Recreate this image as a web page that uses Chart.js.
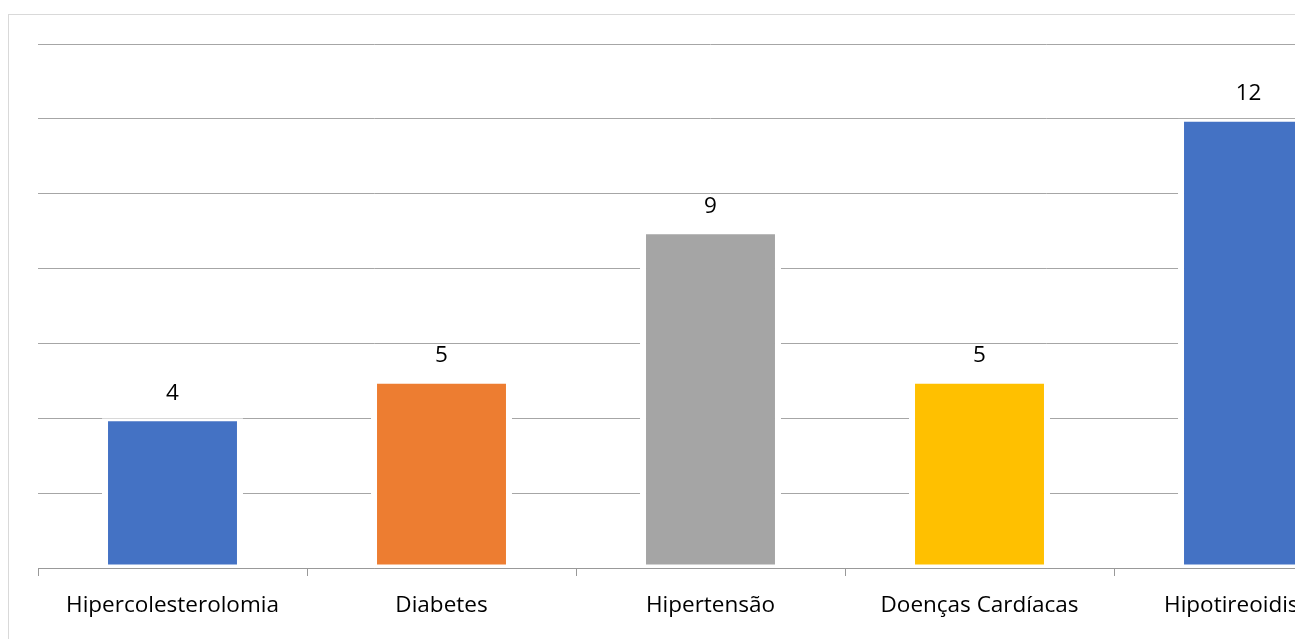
<!DOCTYPE html>
<html>
<head>
<meta charset="utf-8">
<script src="https://cdn.jsdelivr.net/npm/chart.js@4.4.1/dist/chart.umd.min.js"></script>
<style>
  html, body { margin: 0; padding: 0; background: #fff; overflow: hidden; width: 1300px; height: 639px; }
  .clip { position: absolute; left: 0; top: 0; width: 1295px; height: 639px; overflow: hidden; }
  .frame { position: absolute; left: 8px; top: 14px; width: 1400px; height: 700px; border: 1px solid #d9d9d9; box-sizing: border-box; }
  .wrap { position: absolute; left: 0; top: 0; width: 1400px; height: 639px; }
</style>
</head>
<body>
<div class="clip">
  <div class="frame"></div>
  <div class="wrap"><canvas id="c"></canvas></div>
</div>
<script>
// dados do gráfico
var categories = ['Hipercolesterolomia', 'Diabetes', 'Hipertensão', 'Doenças Cardíacas', 'Hipotireoidismo'];
var values = [4, 5, 9, 5, 12];
var barColors = ['#4472C4', '#ED7D31', '#A5A5A5', '#FFC000', '#4472C4'];
var yTicks = [0, 2, 4, 6, 8, 10, 12, 14];

var FONT = { family: '"Open Sans", sans-serif', size: 22.5 };

// rótulos de dados acima das barras
var valueLabels = {
  id: 'valueLabels',
  afterDatasetsDraw: function (chart) {
    var ctx = chart.ctx;
    var meta = chart.getDatasetMeta(0);
    ctx.save();
    ctx.font = FONT.size + 'px ' + FONT.family;
    ctx.fillStyle = '#000';
    ctx.textAlign = 'center';
    ctx.textBaseline = 'middle';
    meta.data.forEach(function (bar, i) {
      ctx.fillText(String(values[i]), bar.x, bar.y - 25);
    });
    ctx.restore();
  }
};

new Chart(document.getElementById('c'), {
  type: 'bar',
  data: {
    labels: categories,
    datasets: [{
      data: values,
      backgroundColor: barColors,
      borderColor: '#ffffff',
      borderWidth: { left: 6, right: 6, top: 3, bottom: 3 },
      borderSkipped: false,
      categoryPercentage: 1,
      barPercentage: 0.524
    }]
  },
  options: {
    responsive: true,
    maintainAspectRatio: false,
    animation: false,
    layout: { padding: { left: 38, right: 17, top: 44, bottom: 0 } },
    plugins: {
      legend: { display: false },
      tooltip: { enabled: false }
    },
    scales: {
      x: {
        z: 1,
        offset: true,
        grid: { offset: true, drawOnChartArea: false, color: '#999999', tickLength: 8 },
        border: { color: '#999999' },
        ticks: { color: '#000', font: FONT, padding: 16, maxRotation: 0, autoSkip: false },
        afterFit: function (scale) { scale.height = 71; }
      },
      y: {
        min: yTicks[0],
        max: yTicks[yTicks.length - 1],
        afterBuildTicks: function (scale) {
          scale.ticks = yTicks.map(function (v) { return { value: v }; });
        },
        ticks: { display: false },
        grid: { color: '#a6a6a6', drawTicks: false },
        border: { display: false },
        afterFit: function (scale) { scale.width = 0; }
      }
    }
  },
  plugins: [valueLabels]
});
</script>
</body>
</html>
